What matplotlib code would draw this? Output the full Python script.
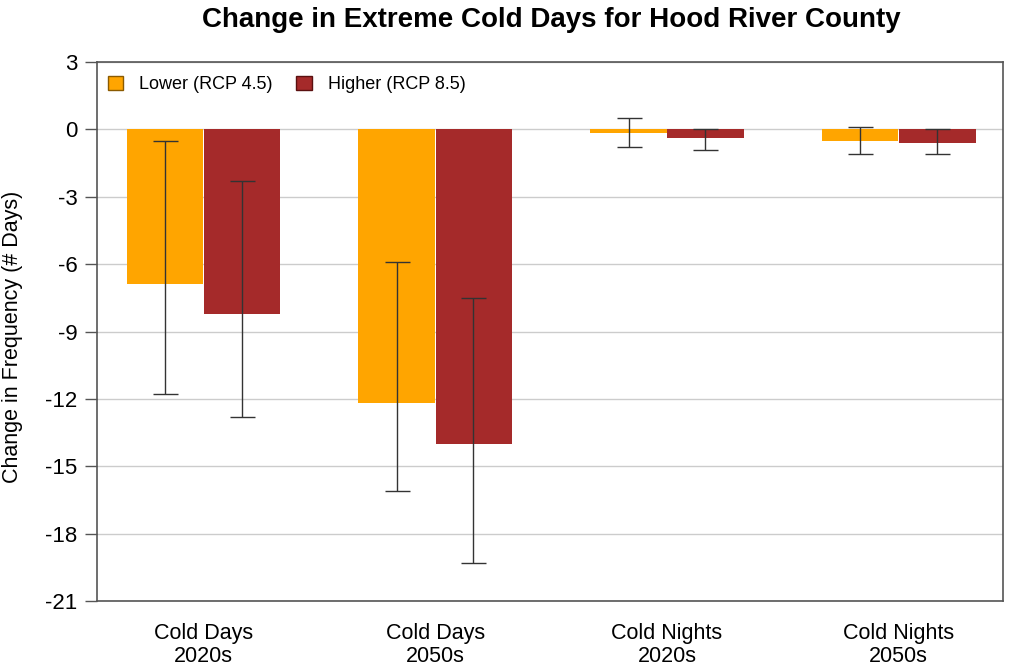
import numpy as np
import matplotlib
matplotlib.use("Agg")
import matplotlib.pyplot as plt
from matplotlib.patches import Patch

plt.rcParams['font.family'] = ['Liberation Sans', 'DejaVu Sans']

# data
categories = ["Cold Days\n2020s", "Cold Days\n2050s", "Cold Nights\n2020s", "Cold Nights\n2050s"]
lower_vals = [-6.9, -12.2, -0.15, -0.5]
lower_hi = [-0.5, -5.9, 0.5, 0.1]
lower_lo = [-11.8, -16.1, -0.8, -1.1]
higher_vals = [-8.2, -14.0, -0.4, -0.6]
higher_hi = [-2.3, -7.5, 0.0, 0.0]
higher_lo = [-12.8, -19.3, -0.9, -1.1]
yticks = [3, 0, -3, -6, -9, -12, -15, -18, -21]

c_low = "#FFA500"
c_high = "#A52A2A"

fig = plt.figure(figsize=(10.09, 6.71), dpi=100)
ax = fig.add_axes([0.0961, 0.1043, 0.8979, 0.8033])

x = np.arange(len(categories))
w = 0.33

def errs(v, hi, lo):
    v = np.array(v); hi = np.array(hi); lo = np.array(lo)
    return [v - lo, hi - v]

ax.bar(x - w / 2 - 0.002, lower_vals, w, color=c_low, zorder=2)
ax.bar(x + w / 2 + 0.002, higher_vals, w, color=c_high, zorder=2)
ax.errorbar(x - w / 2, lower_vals, yerr=errs(lower_vals, lower_hi, lower_lo), fmt="none",
            ecolor="#333333", elinewidth=1, capsize=9, capthick=1, zorder=3)
ax.errorbar(x + w / 2, higher_vals, yerr=errs(higher_vals, higher_hi, higher_lo), fmt="none",
            ecolor="#333333", elinewidth=1, capsize=9, capthick=1, zorder=3)

ax.set_xlim(-0.46, 3.45)
ax.set_ylim(-21, 3)
ax.set_yticks(yticks)
ax.set_yticklabels([str(t) for t in yticks], fontsize=16)
ax.set_xticks(x)
ax.set_xticklabels(categories, fontsize=15.5, linespacing=1.1)
ax.tick_params(axis="x", length=0, pad=16)
ax.tick_params(axis="y", length=9, width=1, color="#555555", pad=5)
ax.yaxis.grid(True, color="#cccccc", linewidth=1, zorder=0)
ax.set_axisbelow(True)
for s in ax.spines.values():
    s.set_color("#555555")
    s.set_linewidth(1.2)

ax.set_ylabel("Change in Frequency (# Days)", fontsize=15.5)
ax.yaxis.set_label_coords(-0.082, 0.49)
fig.suptitle("Change in Extreme Cold Days for Hood River County", fontsize=20, fontweight="bold",
             x=0.546, y=0.99)

handles = [Patch(facecolor=c_low, edgecolor="#8a5a00", label="Lower (RCP 4.5)"),
           Patch(facecolor=c_high, edgecolor="#5a1010", label="Higher (RCP 8.5)")]
ax.legend(handles=handles, loc="upper left", ncol=2, frameon=False, fontsize=13,
          handlelength=0.85, handleheight=0.85, columnspacing=1.3, handletextpad=0.9,
          bbox_to_anchor=(-0.006, 1.005))

fig.savefig("out.png", dpi=100)
